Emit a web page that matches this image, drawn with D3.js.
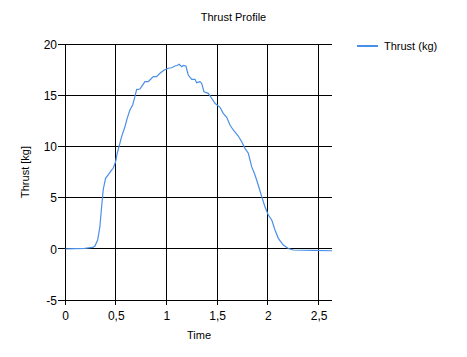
<!DOCTYPE html>
<html><head><meta charset="utf-8">
<script src="https://cdn.jsdelivr.net/npm/d3@7"></script>
<style>body{margin:0;background:#fff}svg{display:block}text{font-family:"Liberation Sans",Arial,sans-serif;fill:#000}</style>
</head><body><svg id="c" width="467" height="357"></svg>
<script>
const title = "Thrust Profile";
const seriesName = "Thrust (kg)";
const xLabel = "Time";
const yLabel = "Thrust [kg]";
const xTicks = [0, 0.5, 1, 1.5, 2, 2.5];
const xTickLabels = ["0", "0,5", "1", "1,5", "2", "2,5"];
const yTicks = [-5, 0, 5, 10, 15, 20];
const time = [0.0,0.19,0.27,0.29,0.317,0.339,0.356,0.372,0.395,0.421,0.448,0.47,0.494,0.51,0.536,0.553,0.586,0.608,0.635,0.662,0.684,0.701,0.734,0.75,0.783,0.816,0.832,0.865,0.898,0.931,0.973,1.013,1.046,1.079,1.099,1.121,1.145,1.161,1.187,1.21,1.244,1.276,1.293,1.325,1.342,1.365,1.407,1.441,1.473,1.523,1.555,1.589,1.621,1.654,1.703,1.737,1.769,1.802,1.835,1.868,1.9,1.934,1.966,1.999,2.033,2.065,2.098,2.147,2.196,2.246,2.443,2.627];
const thrust = [0.05,0.1,0.18,0.32,0.91,2.2,4.16,5.84,6.93,7.26,7.65,7.91,8.55,9.38,10.35,11.0,11.97,12.79,13.6,14.09,14.9,15.6,15.65,15.88,16.37,16.37,16.53,16.86,16.86,17.19,17.51,17.68,17.73,17.9,17.95,18.07,17.83,17.95,17.9,17.02,16.6,16.6,16.27,16.37,16.21,15.39,15.23,14.75,14.26,13.87,13.28,12.89,12.14,11.65,11.06,10.51,9.86,9.38,8.07,7.26,6.28,5.14,4.16,3.35,2.86,1.88,1.07,0.42,0.08,-0.07,-0.1,-0.14];

const svg = d3.select("#c");
const x = d3.scaleLinear().domain([0, 2.627]).range([65.5, 332]);
const y = d3.scaleLinear().domain([-5, 20]).range([300.5, 44.5]);

svg.append("text").attr("x", 233.5).attr("y", 21).attr("text-anchor", "middle").style("font-size", "11px").text(title);

// grid
const g = svg.append("g").attr("shape-rendering", "crispEdges");
g.selectAll(".hg").data(yTicks).join("line")
  .attr("x1", 58).attr("x2", 332).attr("y1", d => Math.round(y(d)) - 0.5).attr("y2", d => Math.round(y(d)) - 0.5)
  .attr("stroke", "#000");
g.selectAll(".vg").data(xTicks).join("line")
  .attr("y1", 44).attr("y2", 305).attr("x1", d => Math.round(x(d)) - 0.5).attr("x2", d => Math.round(x(d)) - 0.5)
  .attr("stroke", "#000");

// tick labels
svg.selectAll(".yl").data(yTicks).join("text")
  .attr("x", 57).attr("y", d => y(d)).attr("dy", "0.36em").attr("text-anchor", "end")
  .style("font-size", "12px").text(d => d);
svg.selectAll(".xl").data(xTicks).join("text")
  .attr("x", d => x(d)).attr("y", 320).attr("text-anchor", "middle")
  .style("font-size", "12px").text((d, i) => xTickLabels[i]);

svg.append("text").attr("x", 199).attr("y", 339).attr("text-anchor", "middle").style("font-size", "11px").text(xLabel);
svg.append("text").attr("transform", "translate(29,172) rotate(-90)").attr("text-anchor", "middle").style("font-size", "11px").text(yLabel);

const data = time.map((t, i) => [t, thrust[i]]);
svg.append("path").datum(data)
  .attr("d", d3.line().x(d => x(d[0])).y(d => y(d[1])))
  .attr("fill", "none").attr("stroke", "#4a8fe8").attr("stroke-width", 1.2);

// legend
svg.append("line").attr("x1", 357).attr("x2", 378).attr("y1", 46).attr("y2", 46).attr("stroke", "#4a8fe8").attr("stroke-width", 2);
svg.append("text").attr("x", 384).attr("y", 50).style("font-size", "11px").text(seriesName);
</script></body></html>
